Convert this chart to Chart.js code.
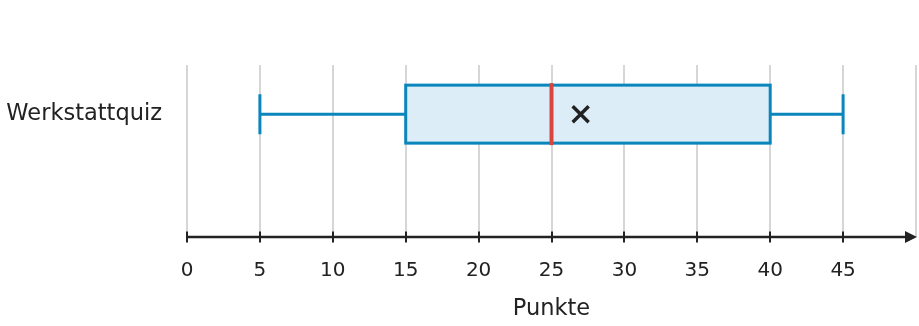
<!DOCTYPE html>
<html>
<head>
<meta charset="utf-8">
<script src="https://cdn.jsdelivr.net/npm/chart.js@4"></script>
<style>
html,body{margin:0;padding:0;background:#fff;overflow:hidden;}
canvas{display:block;}
</style>
</head>
<body>
<canvas id="c" width="919" height="326"></canvas>
<script>
const categories = ['Werkstattquiz'];
const whiskerLow = [5];
const q1 = [15];
const median = [25];
const q3 = [40];
const whiskerHigh = [45];
const mean = [27];
const xTicks = [0, 5, 10, 15, 20, 25, 30, 35, 40, 45];
const xMin = 0, xMax = 50;
const axisTitle = 'Punkte';

const BLUE = '#0a86bd';
const FILL = '#dcedf8';
const RED = '#d8453e';
const DARK = '#222222';
const FONT = 'DejaVu Sans';

const boxPlugin = {
  id: 'boxParts',
  beforeDatasetsDraw(chart) {
    const ctx = chart.ctx, xs = chart.scales.x, area = chart.chartArea;
    const y0 = area.bottom;
    ctx.save();
    ctx.strokeStyle = DARK; ctx.fillStyle = DARK;
    ctx.lineWidth = 2.5;
    ctx.beginPath();
    ctx.moveTo(xs.getPixelForValue(xMin), y0);
    ctx.lineTo(xs.getPixelForValue(xMax) - 8, y0);
    ctx.stroke();
    const tipX = xs.getPixelForValue(xMax) + 1;
    ctx.beginPath();
    ctx.moveTo(tipX, y0);
    ctx.lineTo(tipX - 12, y0 - 6);
    ctx.lineTo(tipX - 12, y0 + 6);
    ctx.closePath();
    ctx.fill();
    ctx.lineWidth = 2;
    xTicks.forEach(v => {
      const px = Math.round(xs.getPixelForValue(v));
      ctx.beginPath();
      ctx.moveTo(px, y0 - 5.5);
      ctx.lineTo(px, y0 + 5.5);
      ctx.stroke();
    });
    ctx.restore();
  },
  afterDatasetsDraw(chart) {
    const ctx = chart.ctx, xs = chart.scales.x;
    const meta = chart.getDatasetMeta(0);
    ctx.save();
    meta.data.forEach((bar, i) => {
      const yc = bar.y;
      const h = bar.height;
      const top = yc - h / 2, bot = yc + h / 2;
      const pL = xs.getPixelForValue(q1[i]);
      const pR = xs.getPixelForValue(q3[i]);
      ctx.strokeStyle = BLUE;
      ctx.lineWidth = 3;
      const wl = xs.getPixelForValue(whiskerLow[i]);
      const wh = xs.getPixelForValue(whiskerHigh[i]);
      ctx.beginPath();
      ctx.moveTo(wl, yc); ctx.lineTo(pL, yc);
      ctx.moveTo(pR, yc); ctx.lineTo(wh, yc);
      ctx.moveTo(wl, yc - 20); ctx.lineTo(wl, yc + 20);
      ctx.moveTo(wh, yc - 20); ctx.lineTo(wh, yc + 20);
      ctx.stroke();
      ctx.strokeRect(pL, top, pR - pL, bot - top);
      const pm = xs.getPixelForValue(median[i]);
      ctx.strokeStyle = RED;
      ctx.lineWidth = 4;
      ctx.beginPath();
      ctx.moveTo(pm, top - 2); ctx.lineTo(pm, bot + 2);
      ctx.stroke();
      const pmean = xs.getPixelForValue(mean[i]);
      ctx.strokeStyle = DARK;
      ctx.lineWidth = 3.5;
      const s = 8;
      ctx.beginPath();
      ctx.moveTo(pmean - s, yc - s); ctx.lineTo(pmean + s, yc + s);
      ctx.moveTo(pmean - s, yc + s); ctx.lineTo(pmean + s, yc - s);
      ctx.stroke();
    });
    ctx.restore();
  }
};

new Chart(document.getElementById('c'), {
  type: 'bar',
  data: {
    datasets: [{
      data: categories.map((c, i) => ({ x: [q1[i], q3[i]], y: i })),
      backgroundColor: FILL,
      borderWidth: 0,
      barThickness: 58
    }]
  },
  options: {
    indexAxis: 'y',
    responsive: false,
    maintainAspectRatio: false,
    animation: false,
    layout: { padding: { top: 65, right: 3, bottom: 0, left: 0 } },
    plugins: { legend: { display: false }, tooltip: { enabled: false } },
    scales: {
      x: {
        type: 'linear',
        min: xMin, max: xMax,
        offset: false,
        afterBuildTicks: s => { s.ticks = xTicks.concat([xMax]).map(v => ({ value: v })); },
        afterFit: s => { s.height = 89; s.paddingLeft = 0; s.paddingRight = 0; },
        ticks: {
          callback: v => (xTicks.includes(v) ? String(v) : ''),
          font: { family: FONT, size: 20 },
          color: DARK,
          padding: 22,
          maxRotation: 0,
          autoSkip: false
        },
        grid: { color: '#d6d6d6', lineWidth: 2, drawTicks: false, offset: false },
        border: { display: false },
        title: {
          display: true, text: axisTitle, color: DARK,
          font: { family: FONT, size: 22.5 },
          padding: { top: 0, bottom: 3 }
        }
      },
      y: {
        type: 'linear',
        min: -2.5, max: 1,
        offset: false,
        afterBuildTicks: s => { s.ticks = categories.map((c, i) => ({ value: i })); },
        afterFit: s => { s.width = 187; s.paddingTop = 0; s.paddingBottom = 0; },
        ticks: {
          callback: (v) => categories[v] !== undefined ? categories[v] : '',
          font: { family: FONT, size: 22.5 },
          color: DARK,
          padding: 25
        },
        grid: { display: false, drawTicks: false, offset: false },
        border: { display: false }
      }
    }
  },
  plugins: [boxPlugin]
});
</script>
</body>
</html>
